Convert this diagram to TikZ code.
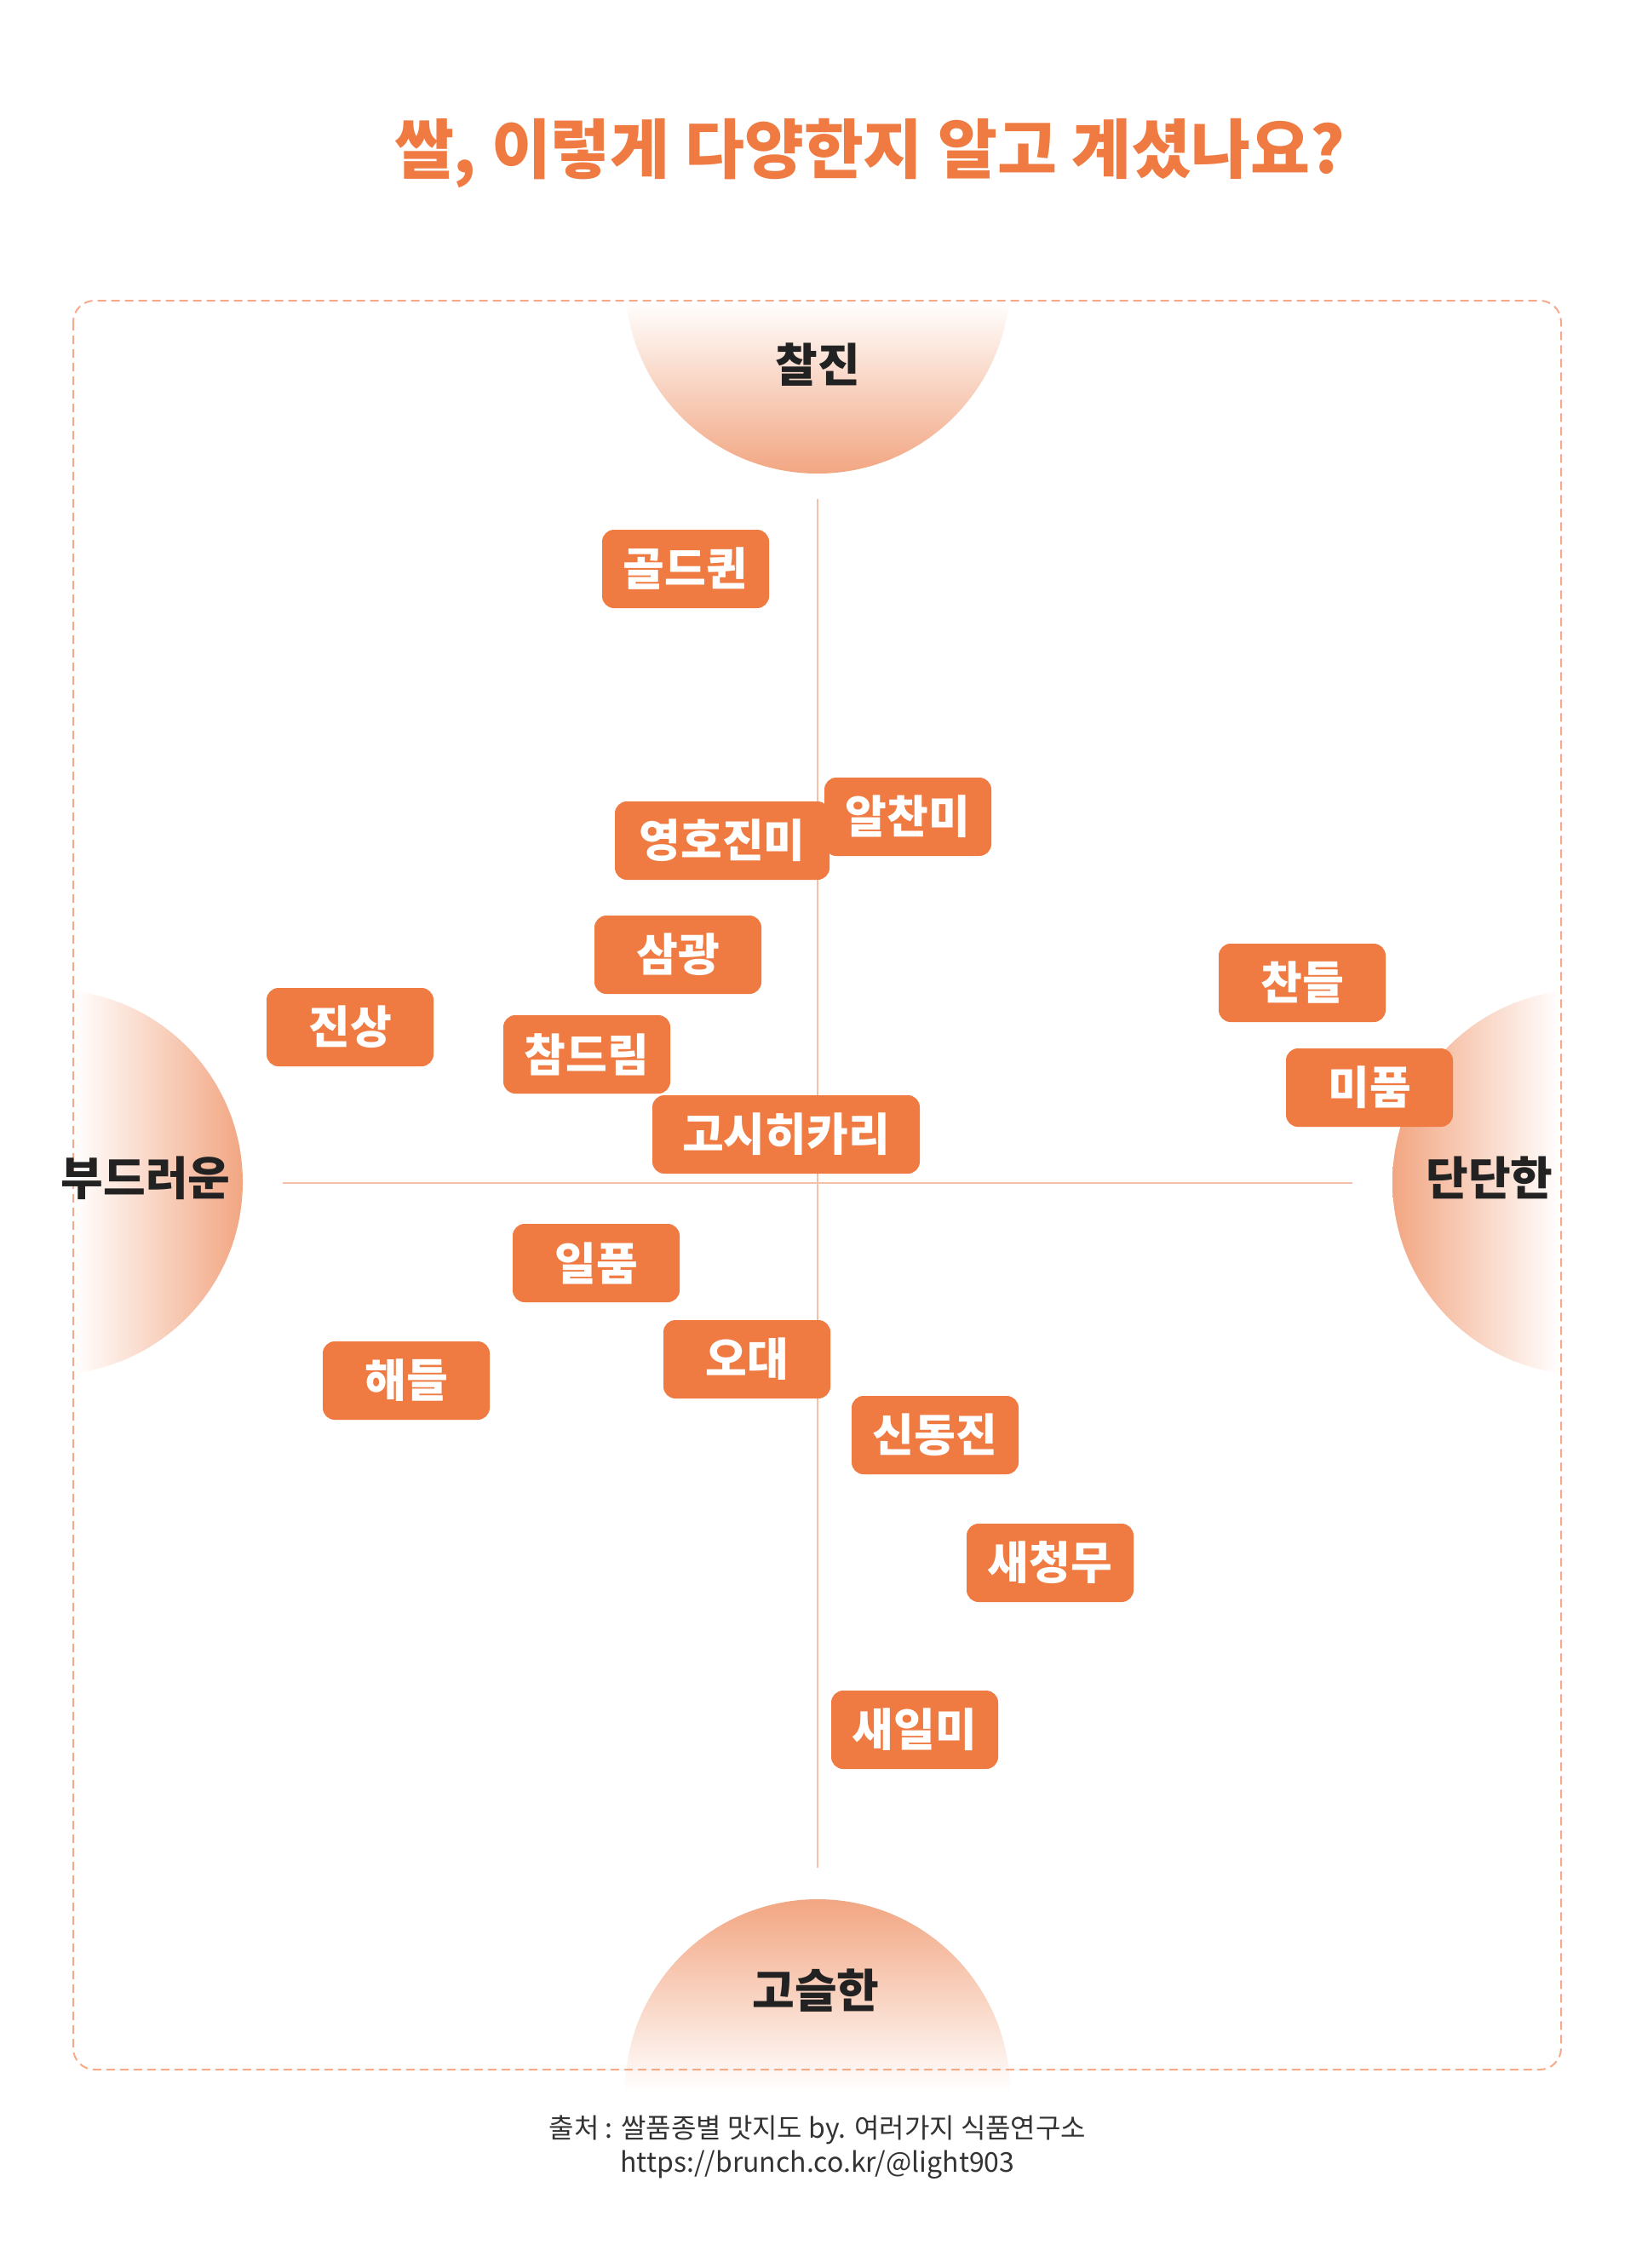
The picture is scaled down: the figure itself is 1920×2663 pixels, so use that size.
\documentclass[tikz,border=0pt]{standalone}
\usepackage{fontspec}
\setmainfont{Noto Sans CJK KR}
\usepackage{xcolor}
\definecolor{riceorange}{RGB}{239,123,67}
\definecolor{discorange}{RGB}{242,166,130}
\definecolor{axiscolor}{RGB}{246,192,168}
\definecolor{boxcolor}{RGB}{246,170,138}
\definecolor{inkdark}{RGB}{34,34,34}
\definecolor{footgray}{RGB}{51,51,51}
\tikzset{
	variety/.style={fill=riceorange, text=white, rounded corners=14pt,
		minimum width=196pt, minimum height=92pt, inner sep=0pt,
		font=\fontsize{53}{60}\selectfont\bfseries},
	axislabel/.style={text=inkdark, font=\fontsize{54}{60}\selectfont\bfseries},
	axisline/.style={draw=axiscolor, line width=2.5pt},
	frame/.style={draw=boxcolor, line width=2pt, dash pattern=on 10pt off 6pt, rounded corners=25pt}}

\begin{document}
\begin{tikzpicture}[x=1pt, y=-1pt]

		\useasboundingbox[fill=white] (0,0) rectangle (1920,2663);

		% half discs
		\begin{scope}
			\clip (960,330) circle[radius=226pt];
			\shade[top color=white, bottom color=discorange] (734,353) rectangle (1186,556);
		\end{scope}
		\begin{scope}
			\clip (960,2456) circle[radius=226pt];
			\shade[top color=discorange, bottom color=white] (734,2230) rectangle (1186,2456);
		\end{scope}
		\begin{scope}
			\clip (59,1388) circle[radius=226pt];
			\shade[left color=white, right color=discorange] (86,1162) rectangle (285,1614);
		\end{scope}
		\begin{scope}
			\clip (1861,1388) circle[radius=226pt];
			\shade[left color=discorange, right color=white] (1635,1162) rectangle (1833,1614);
		\end{scope}

		\draw[frame] (86,353) rectangle (1833,2430);

		\node[text=riceorange, font=\fontsize{76}{84}\selectfont\bfseries] (title) at (1021,180) {쌀, 이렇게 다양한지 알고 계셨나요?};

		\node[axislabel] (chewy) at (960,428) {찰진};
		\node[axislabel] (soft) at (171,1383) {부드러운};
		\node[axislabel] (firm) at (1749,1383) {단단한};
		\node[axislabel] (fluffy) at (958,2337) {고슬한};

		\coordinate (axtop) at (960,586);
		\coordinate (axbottom) at (960,2193);
		\coordinate (axleft) at (332,1389);
		\coordinate (axright) at (1588,1389);
		\draw[axisline] (axtop) -- (axbottom);
		\draw[axisline] (axleft) -- (axright);

		\node[variety] (r1) at (805,668) {골드퀸};
		\node[variety] (r2) at (1066,959) {알찬미};
		\node[variety, minimum width=252pt] (r3) at (848,987) {영호진미};
		\node[variety] (r4) at (796,1121) {삼광};
		\node[variety] (r5) at (1529,1154) {찬들};
		\node[variety] (r6) at (411,1206) {진상};
		\node[variety] (r7) at (689,1238) {참드림};
		\node[variety] (r8) at (1608,1277) {미품};
		\node[variety, minimum width=314pt] (r9) at (923,1332) {고시히카리};
		\node[variety] (r10) at (700,1483) {일품};
		\node[variety] (r11) at (877,1596) {오대};
		\node[variety] (r12) at (477,1621) {해들};
		\node[variety] (r13) at (1098,1685) {신동진};
		\node[variety] (r14) at (1233,1835) {새청무};
		\node[variety] (r15) at (1074,2031) {새일미};

		\node[text=footgray, align=center, font=\fontsize{32}{40}\selectfont] (source) at (960,2521)
			{출처 : 쌀품종별 맛지도 by. 여러가지 식품연구소\\https://brunch.co.kr/@light903};

	\end{tikzpicture}
\end{document}
